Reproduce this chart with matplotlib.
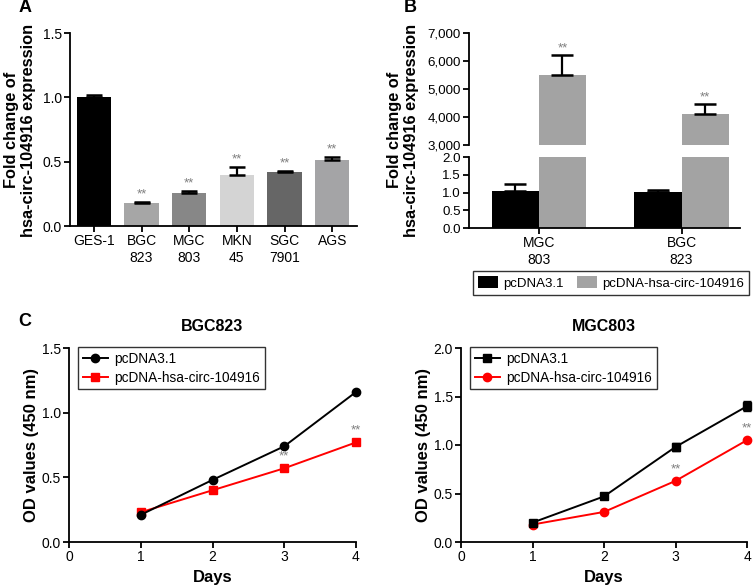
import matplotlib
matplotlib.use("Agg")
import matplotlib.pyplot as plt
import numpy as np
from matplotlib.patches import Patch

plt.rcParams['font.family'] = ['Liberation Sans', 'DejaVu Sans']
plt.rcParams['axes.linewidth'] = 1.3

# Panel A data
a_labels = ['GES-1', 'BGC\n823', 'MGC\n803', 'MKN\n45', 'SGC\n7901', 'AGS']
a_values = [1.00, 0.18, 0.26, 0.40, 0.42, 0.51]
a_errors = [0.015, 0.01, 0.015, 0.06, 0.007, 0.03]
a_colors = ['#000000', '#a6a6a6', '#878787', '#d4d4d4', '#666666', '#a4a4a6']
a_sig = ['', '**', '**', '**', '**', '**']

# Panel B data
b_groups = ['MGC\n803', 'BGC\n823']
b_ctrl = [1.05, 1.01]
b_ctrl_err = [0.20, 0.05]
b_circ = [5500, 4100]
b_circ_err = [700, 350]
b_series = ['pcDNA3.1', 'pcDNA-hsa-circ-104916']

# Panel C data
days = [1, 2, 3, 4]
bgc_ctrl = [0.21, 0.48, 0.74, 1.16]
bgc_circ = [0.23, 0.40, 0.57, 0.77]
mgc_ctrl = [0.20, 0.47, 0.98, 1.40]
mgc_ctrl_err = [0.01, 0.01, 0.04, 0.05]
mgc_circ = [0.18, 0.31, 0.63, 1.05]
sig_days = [3, 4]

W, H = 756, 587
fig = plt.figure(figsize=(W / 100, H / 100), dpi=100)


def box(left, top, right, bottom):
    return [left / W, 1 - bottom / H, (right - left) / W, (bottom - top) / H]


def style(ax, size=10):
    ax.spines['top'].set_visible(False)
    ax.spines['right'].set_visible(False)
    ax.tick_params(direction='out', length=4, width=1.3, labelsize=size, pad=2)


star_color = '#7f7f7f'

# ---- Panel A ----
axA = fig.add_axes(box(70, 33, 357, 226))
xa = np.arange(len(a_values))
axA.bar(xa, a_values, width=0.72, color=a_colors, zorder=2)
axA.errorbar(xa, a_values, yerr=[np.zeros(len(a_errors)), a_errors], fmt='none',
             ecolor='black', elinewidth=1.6, capsize=6, capthick=1.8, zorder=3)
for x, v, e, s in zip(xa, a_values, a_errors, a_sig):
    if s:
        axA.annotate(s, (x, v + e), xytext=(0, 1), textcoords='offset points',
                     ha='center', va='bottom', fontsize=9.5, color=star_color)
axA.set_xlim(-0.5, 5.52)
axA.set_ylim(0, 1.5)
axA.set_yticks([0, 0.5, 1.0, 1.5])
axA.set_yticklabels(['0.0', '0.5', '1.0', '1.5'])
axA.set_xticks(xa)
axA.set_xticklabels(a_labels, linespacing=1.25)
style(axA)
fig.text(20 / W, 1 - 130 / H, 'Fold change of\nhsa-circ-104916 expression', rotation=90,
         ha='center', va='center', fontsize=11.8, fontweight='bold', linespacing=1.1)
fig.text(25 / W, 1 - 8 / H, 'A', ha='center', va='center', fontsize=13, fontweight='bold')

# ---- Panel B (broken axis) ----
axBt = fig.add_axes(box(469, 33, 740, 145))
axBb = fig.add_axes(box(469, 157, 740, 228))
xb = np.arange(len(b_groups))
bw = 0.33
for ax in (axBt, axBb):
    ax.bar(xb - bw / 2, b_ctrl, width=bw, color='black', zorder=2)
    ax.bar(xb + bw / 2, b_circ, width=bw, color='#a3a3a3', zorder=2)
    ax.set_xlim(-0.49, 1.41)
    style(ax, 9.6)
axBb.errorbar(xb - bw / 2, b_ctrl, yerr=[np.zeros(2), b_ctrl_err], fmt='none',
              ecolor='black', elinewidth=1.6, capsize=8, capthick=1.8, zorder=3)
axBt.errorbar(xb + bw / 2, b_circ, yerr=[np.zeros(2), b_circ_err], fmt='none',
              ecolor='black', elinewidth=1.6, capsize=8, capthick=1.8, zorder=3)
for x, v, e in zip(xb + bw / 2, b_circ, b_circ_err):
    axBt.annotate('**', (x, v + e), xytext=(0, 1), textcoords='offset points',
                  ha='center', va='bottom', fontsize=9.5, color=star_color)
axBt.set_ylim(3000, 7000)
axBt.set_yticks([3000, 4000, 5000, 6000, 7000])
axBt.set_yticklabels(['3,000', '4,000', '5,000', '6,000', '7,000'])
axBt.spines['bottom'].set_visible(False)
axBt.tick_params(axis='x', bottom=False, labelbottom=False)
axBb.set_ylim(0, 2)
axBb.set_yticks([0, 0.5, 1.0, 1.5, 2.0])
axBb.set_yticklabels(['0.0', '0.5', '1.0', '1.5', '2.0'])
axBb.set_xticks(xb)
axBb.set_xticklabels(b_groups, linespacing=1.25)
axBb.tick_params(axis='x', labelsize=10)
fig.text(403 / W, 1 - 130 / H, 'Fold change of\nhsa-circ-104916 expression', rotation=90,
         ha='center', va='center', fontsize=11.8, fontweight='bold', linespacing=1.1)
fig.text(410 / W, 1 - 8 / H, 'B', ha='center', va='center', fontsize=13, fontweight='bold')
handles = [Patch(facecolor='black'), Patch(facecolor='#a3a3a3')]
legB = fig.legend(handles, b_series, ncol=2, loc='center',
                  bbox_to_anchor=(611 / W, 1 - 283 / H), fontsize=9.5,
                  frameon=True, fancybox=False, edgecolor='black', handlelength=1.5,
                  handleheight=1.0, columnspacing=1.0, handletextpad=0.4,
                  borderpad=0.4, borderaxespad=0)
legB.get_frame().set_linewidth(1.0)

# ---- Panel C ----
axC1 = fig.add_axes(box(69, 348, 356, 542))
h1 = axC1.plot(days, bgc_ctrl, '-o', color='black', lw=1.4, ms=6, zorder=3)[0]
h2 = axC1.plot(days, bgc_circ, '-s', color='#ff0000', lw=1.4, ms=6, zorder=2)[0]
for d in sig_days:
    axC1.annotate('**', (d, bgc_circ[d - 1]), xytext=(0, 4), textcoords='offset points',
                  ha='center', va='bottom', fontsize=9.5, color=star_color)
axC1.set_xlim(0, 4)
axC1.set_ylim(0, 1.5)
axC1.set_xticks([0, 1, 2, 3, 4])
axC1.set_yticks([0, 0.5, 1.0, 1.5])
axC1.set_yticklabels(['0.0', '0.5', '1.0', '1.5'])
axC1.set_title('BGC823', fontsize=11.5, fontweight='bold', pad=12)

axC2 = fig.add_axes(box(461, 348, 747, 542))
h3 = axC2.errorbar(days, mgc_ctrl, yerr=mgc_ctrl_err, fmt='-s', color='black', lw=1.4, ms=6,
                   capsize=3, elinewidth=1.4, zorder=3)
h4 = axC2.plot(days, mgc_circ, '-o', color='#ff0000', lw=1.4, ms=6, zorder=2)[0]
for d in sig_days:
    axC2.annotate('**', (d, mgc_circ[d - 1]), xytext=(0, 4), textcoords='offset points',
                  ha='center', va='bottom', fontsize=9.5, color=star_color)
axC2.set_xlim(0, 4)
axC2.set_ylim(0, 2.0)
axC2.set_xticks([0, 1, 2, 3, 4])
axC2.set_yticks([0, 0.5, 1.0, 1.5, 2.0])
axC2.set_yticklabels(['0.0', '0.5', '1.0', '1.5', '2.0'])
axC2.set_title('MGC803', fontsize=11.5, fontweight='bold', pad=12)

for ax, hs in ((axC1, [h1, h2]), (axC2, [h3[0], h4])):
    style(ax)
    ax.set_xlabel('Days', fontsize=12, fontweight='bold', labelpad=4)
    ax.set_ylabel('OD values (450 nm)', fontsize=12, fontweight='bold', labelpad=2)
    leg = ax.legend(hs, b_series, loc='upper left', bbox_to_anchor=(0.033, 1.005),
                    fontsize=9.8, frameon=True, fancybox=False, edgecolor='black',
                    handlelength=1.8, handletextpad=0.5, borderpad=0.35,
                    labelspacing=0.35, borderaxespad=0)
    leg.get_frame().set_linewidth(1.0)
    for line in ax.lines:
        line.set_clip_on(False)

fig.text(25 / W, 1 - 322 / H, 'C', ha='center', va='center', fontsize=13, fontweight='bold')

fig.savefig('out.png', dpi=100)
